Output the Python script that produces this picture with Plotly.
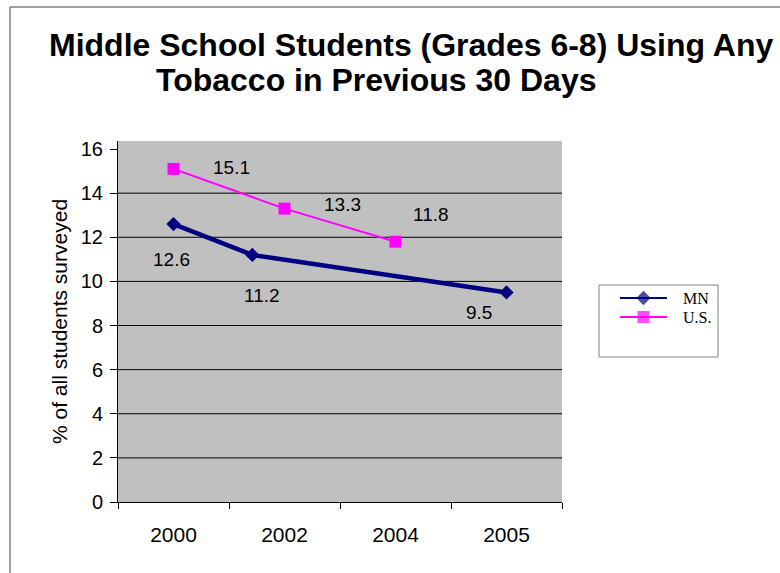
import plotly.graph_objects as go

# Survey years shown on the category axis
years = ["2000", "2002", "2004", "2005"]

# Position of each point along the category axis (0 = first category)
mn_pos = [0, 0.71, 3]
us_pos = [0, 1, 2]

# Percent of students using any tobacco in previous 30 days
mn_values = [12.6, 11.2, 9.5]
us_values = [15.1, 13.3, 11.8]

series_names = ["MN", "U.S."]

y_ticks = [0, 2, 4, 6, 8, 10, 12, 14, 16]

# Figure geometry in pixels
W, H = 780, 573
L, PLOT_R = 118, 562          # main plot area left/right
PAPER_R = 725                 # paper extends to include the legend
T, B = 141, 502
PX_PER_UNIT = 22.06


def paper_x(p):
    return (p - L) / (PAPER_R - L)


def paper_y(p):
    return (B - p) / (B - T)


MN_STYLE = dict(line=dict(color="#000080", width=4.5),
                marker=dict(symbol="diamond", size=11, color="#000080", line=dict(width=0)))
US_STYLE = dict(line=dict(color="#FF00FF", width=2),
                marker=dict(symbol="square", size=12, color="#FF00FF", line=dict(width=0)))

fig = go.Figure()

fig.add_trace(go.Scatter(x=mn_pos, y=mn_values, name=series_names[0],
                         mode="lines+markers", showlegend=False, **MN_STYLE))
fig.add_trace(go.Scatter(x=us_pos, y=us_values, name=series_names[1],
                         mode="lines+markers", showlegend=False, **US_STYLE))

# Data labels, offset from each point
label_font = dict(family="Liberation Sans, Arial", size=19, color="black")
mn_offsets = [(-2, -35), (10, -41), (-28, -20)]
us_offsets = [(58, 1), (58, 4), (35, 27)]
for xs, ys, offs in ((mn_pos, mn_values, mn_offsets), (us_pos, us_values, us_offsets)):
    for xv, yv, (dx, dy) in zip(xs, ys, offs):
        fig.add_annotation(x=xv, y=yv, text=f"{yv:.1f}", showarrow=False,
                           xshift=dx, yshift=dy, font=label_font)

# Grey plot-area fill
fig.add_shape(type="rect", xref="x domain", yref="y domain", x0=0, x1=1, y0=0, y1=1,
              line=dict(width=0), fillcolor="#C0C0C0", layer="below")

# Horizontal gridlines between the axis ends
for v in y_ticks[1:-1]:
    fig.add_shape(type="line", xref="x domain", x0=0, x1=1, yref="y", y0=v, y1=v,
                  line=dict(color="black", width=1), layer="below")

# Outer chart border (top and left edges)
border = dict(color="#808080", width=1.5)
fig.add_shape(type="line", xref="paper", yref="paper",
              x0=paper_x(10), x1=paper_x(800), y0=paper_y(7), y1=paper_y(7),
              line=border, layer="below")
fig.add_shape(type="line", xref="paper", yref="paper",
              x0=paper_x(10), x1=paper_x(10), y0=paper_y(7), y1=paper_y(600),
              line=border, layer="below")

# Legend: frame, sample lines on their own small axes, and series names
LEG_X0, LEG_X1 = 620, 667      # sample line extent (px)
LEG_Y0, LEG_Y1 = 330, 290      # sample axes vertical extent (px)
LEG_ROW0, LEG_ROW_STEP = 298, 19
fig.add_shape(type="rect", xref="paper", yref="paper",
              x0=paper_x(599), x1=paper_x(718), y0=paper_y(357), y1=paper_y(285),
              line=dict(color="#808080", width=1), fillcolor="white", layer="below")
for i, (name, style) in enumerate(zip(series_names, (MN_STYLE, US_STYLE))):
    row_px = LEG_ROW0 + LEG_ROW_STEP * i
    ry = (LEG_Y0 - row_px) / (LEG_Y0 - LEG_Y1)
    fig.add_trace(go.Scatter(
        x=[0, 0.5, 1], y=[ry, ry, ry], mode="lines+markers", showlegend=False,
        hoverinfo="skip", xaxis="x2", yaxis="y2",
        line=dict(color=style["line"]["color"], width=2),
        marker=dict(symbol=style["marker"]["symbol"], color=style["marker"]["color"],
                    size=[0, style["marker"]["size"], 0], line=dict(width=0)),
    ))
    fig.add_annotation(text=name, xref="paper", yref="paper",
                       x=paper_x(681), y=paper_y(row_px), xanchor="left", yanchor="middle",
                       showarrow=False,
                       font=dict(family="Liberation Serif, Times New Roman", size=16, color="black"))

# Two-line title
title_font = dict(family="Liberation Sans, Arial", size=32, color="black")
fig.add_annotation(text="<b>Middle School Students (Grades 6-8) Using Any</b>",
                   xref="paper", yref="paper", x=paper_x(411), y=paper_y(45),
                   xanchor="center", yanchor="middle", showarrow=False, font=title_font)
fig.add_annotation(text="<b>Tobacco in Previous 30 Days</b>",
                   xref="paper", yref="paper", x=paper_x(376), y=paper_y(80),
                   xanchor="center", yanchor="middle", showarrow=False, font=title_font)

fig.update_layout(
    width=W, height=H,
    margin=dict(l=L, r=W - PAPER_R, t=T, b=H - B),
    paper_bgcolor="white",
    plot_bgcolor="rgba(0,0,0,0)",
    font=dict(family="Liberation Sans, Arial", size=18, color="black"),
    showlegend=False,
    xaxis=dict(
        domain=[0, paper_x(PLOT_R)],
        range=[-0.5, len(years) - 0.5],
        tickmode="array", tickvals=list(range(len(years))), ticktext=years,
        ticks="", showgrid=False, zeroline=False,
        showline=True, linecolor="black", linewidth=1,
        minor=dict(tickmode="array", tickvals=[i - 0.5 for i in range(len(years) + 1)],
                   ticks="outside", ticklen=6, tickcolor="black", showgrid=False),
        tickfont=dict(size=21), ticklabelstandoff=14, fixedrange=True,
    ),
    yaxis=dict(
        range=[0, (B - T) / PX_PER_UNIT],
        tickmode="array", tickvals=y_ticks,
        ticks="outside", ticklen=7, tickcolor="black",
        showgrid=False, zeroline=False,
        showline=True, linecolor="black", linewidth=1,
        tickfont=dict(size=20), ticklabelstandoff=3,
        title=dict(text="% of all students surveyed", font=dict(size=21), standoff=7),
        fixedrange=True,
    ),
    xaxis2=dict(domain=[paper_x(LEG_X0), paper_x(LEG_X1)], range=[0, 1], anchor="y2",
                visible=False, fixedrange=True),
    yaxis2=dict(domain=[paper_y(LEG_Y0), paper_y(LEG_Y1)], range=[0, 1], anchor="x2",
                visible=False, fixedrange=True),
)

fig.write_html("out.html")
